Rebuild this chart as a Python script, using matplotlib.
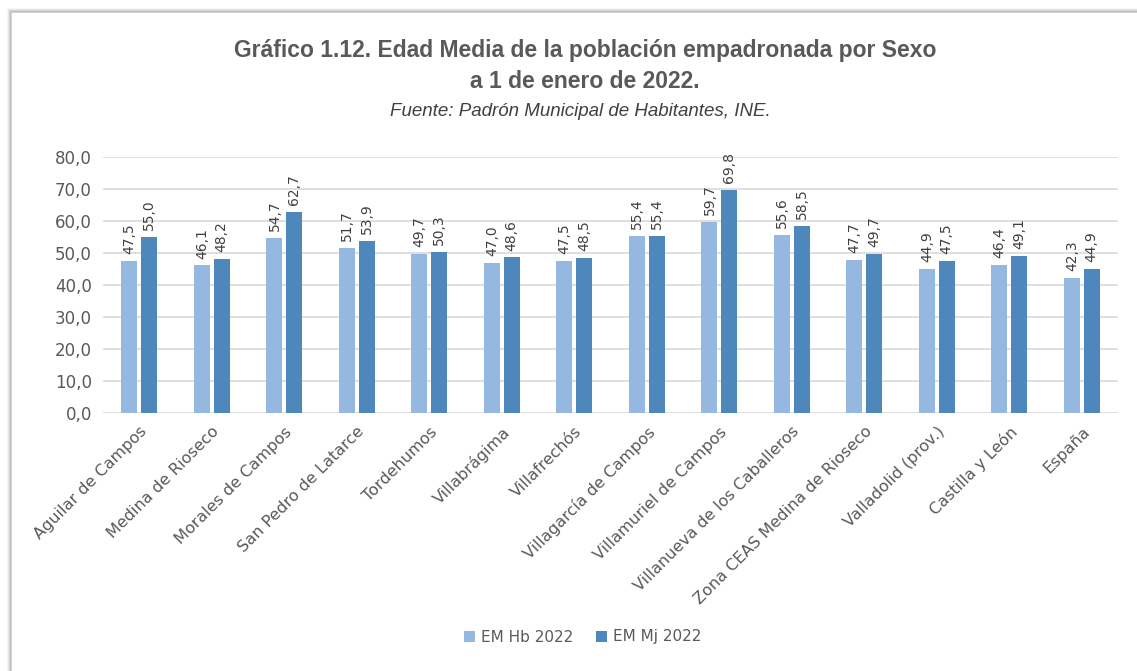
import matplotlib.pyplot as plt
import numpy as np
from matplotlib import font_manager
from matplotlib.patches import Rectangle

categories = [
    "Aguilar de Campos", "Medina de Rioseco", "Morales de Campos",
    "San Pedro de Latarce", "Tordehumos", "Villabrágima", "Villafrechós",
    "Villagarcía de Campos", "Villamuriel de Campos",
    "Villanueva de los Caballeros", "Zona CEAS Medina de Rioseco",
    "Valladolid (prov.)", "Castilla y León", "España",
]
em_hb = [47.5, 46.1, 54.7, 51.7, 49.7, 47.0, 47.5, 55.4, 59.7, 55.6, 47.7, 44.9, 46.4, 42.3]
em_mj = [55.0, 48.2, 62.7, 53.9, 50.3, 48.6, 48.5, 55.4, 69.8, 58.5, 49.7, 47.5, 49.1, 44.9]
series_names = ["EM Hb 2022", "EM Mj 2022"]
yticks = [0, 10, 20, 30, 40, 50, 60, 70, 80]

names = {f.name for f in font_manager.fontManager.ttflist}
title_font = "Liberation Sans Narrow" if "Liberation Sans Narrow" in names else "Liberation Sans"
plt.rcParams["font.family"] = ["DejaVu Sans"]

gray = "#595959"
light = "#95B8E0"
dark = "#4E87BC"

fig = plt.figure(figsize=(11.37, 6.71), dpi=100)

# frame with soft shadow on left/top
for i, a in enumerate([0.4, 0.28, 0.16, 0.08]):
    fig.add_artist(Rectangle(((11 - i) / 1137, -0.1), 1.2, (671 - 12 + i) / 671 + 0.1,
                             transform=fig.transFigure, fill=False,
                             edgecolor="#808080", alpha=a, lw=1.2))

ax = fig.add_axes([103 / 1137, 1 - 413 / 671, 1015 / 1137, 256 / 671])
x = np.arange(len(categories))
w = 0.22
b1 = ax.bar(x - w / 2 - 0.025, em_hb, w, color=light, label=series_names[0])
b2 = ax.bar(x + w / 2 + 0.025, em_mj, w, color=dark, label=series_names[1])

for bars, vals in ((b1, em_hb), (b2, em_mj)):
    for r, v in zip(bars, vals):
        ax.annotate(f"{v:.1f}".replace(".", ","),
                    (r.get_x() + r.get_width() / 2, v), xytext=(0, 5),
                    textcoords="offset points", rotation=90, ha="center",
                    va="bottom", fontsize=10, color="#404040")

ax.set_ylim(0, 80)
ax.set_xlim(-0.5, len(categories) - 0.5)
ax.set_yticks(yticks)
ax.set_yticklabels([f"{t:.1f}".replace(".", ",") for t in yticks], fontsize=12, color=gray)
ax.set_xticks(x)
ax.set_xticklabels(categories, rotation=45, ha="right", rotation_mode="anchor",
                   fontsize=11.5, color=gray)
ax.tick_params(length=0, pad=8)
ax.grid(axis="y", color="#D9D9D9", lw=1.2)
ax.set_axisbelow(True)
for s in ax.spines.values():
    s.set_visible(False)

fig.text(585 / 1137, 1 - 50 / 671, "Gráfico 1.12. Edad Media de la población empadronada por Sexo",
         ha="center", va="center", fontsize=16.5, fontweight="bold", color=gray,
         family=title_font)
fig.text(585 / 1137, 1 - 81 / 671, "a 1 de enero de 2022.",
         ha="center", va="center", fontsize=16.5, fontweight="bold", color=gray,
         family=title_font)
fig.text(580 / 1137, 1 - 112 / 671, "Fuente: Padrón Municipal de Habitantes, INE.",
         ha="center", va="center", fontsize=13.5, style="italic", color="#404040",
         family=title_font)

fig.legend(loc="center", bbox_to_anchor=(583 / 1137, 1 - 637 / 671), ncol=2,
           frameon=False, fontsize=11, handlelength=0.7, handleheight=0.7,
           handletextpad=0.4, columnspacing=1.5, labelcolor=gray)

fig.savefig("out.png", dpi=100, facecolor="white")
